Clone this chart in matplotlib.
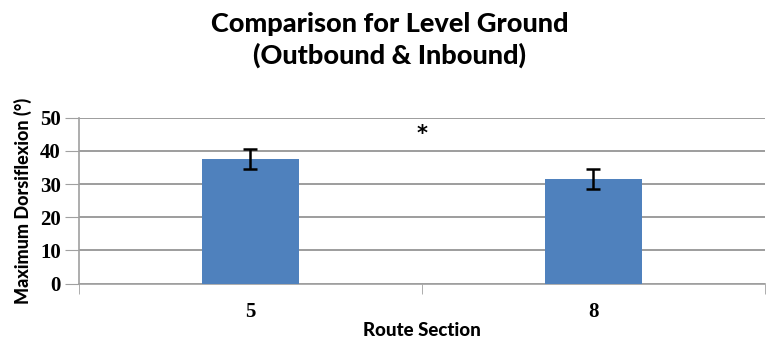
import matplotlib.pyplot as plt
import numpy as np

sections = ["5", "8"]
dorsiflexion = [37.5, 31.5]
stderr = [3.0, 2.9]
yticks = [0, 10, 20, 30, 40, 50]

fig = plt.figure(figsize=(7.69, 3.43), dpi=100)
ax = fig.add_axes([0.1027, 0.1729, 0.892, 0.484])

x = np.arange(len(sections))
ax.bar(x, dorsiflexion, width=0.285, color="#4F81BD", zorder=3)
ax.errorbar(x, dorsiflexion, yerr=stderr, fmt="none", ecolor="black",
            elinewidth=1.8, capsize=5, capthick=1.8, zorder=4)

# significance marker between the two sections
ax.text(0.5, 45, "*", ha="center", va="center", fontsize=15,
        fontweight="bold", family="DejaVu Sans")

ax.set_xlim(-0.5, 1.5)
ax.set_ylim(0, 50)
ax.set_yticks(yticks)
ax.set_xticks(x)
ax.set_xticklabels(sections)
ax.set_xticks([-0.5, 0.5, 1.5], minor=True)
ax.tick_params(axis="x", which="major", length=0, pad=13)
ax.tick_params(axis="x", which="minor", length=7, color="#A0A0A0", direction="out")
ax.tick_params(axis="y", length=10, color="#A0A0A0", pad=3)
for lab in ax.get_xticklabels() + ax.get_yticklabels():
    lab.set_fontfamily("Liberation Serif")
    lab.set_fontweight("bold")
    lab.set_fontsize(15)

ax.yaxis.grid(True, color="#8C8C8C", linewidth=1.2, zorder=0)
for s in ["top", "right"]:
    ax.spines[s].set_visible(False)
ax.spines["left"].set_color("#A0A0A0")
ax.spines["bottom"].set_color("#A0A0A0")
ax.spines["left"].set_linewidth(1.2)
ax.spines["bottom"].set_linewidth(1.2)

ax.set_xlabel("Route Section", fontsize=13.5, fontweight=900, family="Lato", labelpad=0)
ax.set_ylabel("Maximum Dorsiflexion (°)", fontsize=13, fontweight=900, family="Lato", labelpad=6)
fig.text(0.507, 0.965, "Comparison for Level Ground\n(Outbound & Inbound)",
         ha="center", va="top", fontsize=19.5, fontweight=900, family="Lato",
         linespacing=1.3)

fig.savefig("out.png")
